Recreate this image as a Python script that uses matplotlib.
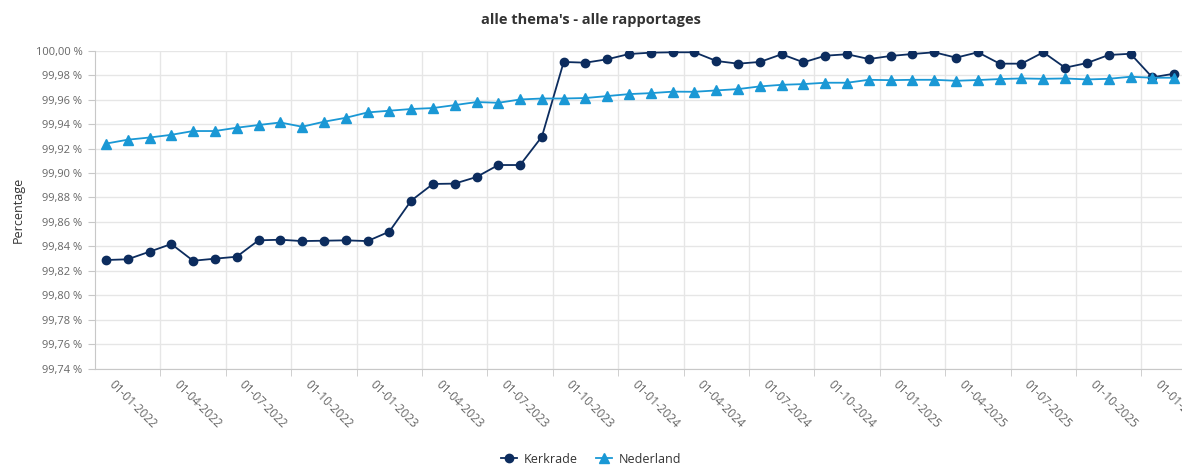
import numpy as np
import pandas as pd
import matplotlib
matplotlib.use('Agg')
import matplotlib.pyplot as plt

plt.rcParams['font.family'] = ['Open Sans', 'DejaVu Sans']

MONTHS = pd.date_range(start='2022-01-01', periods=50, freq='MS')
CATEGORIES = [d.strftime('%d-%m-%Y') for d in MONTHS]

KERKRADE = [
    99.8288, 99.8294, 99.8356, 99.8419, 99.8282, 99.8299, 99.8315, 99.8449, 99.8454, 99.8443,
    99.8446, 99.8449, 99.8443, 99.8520, 99.8773, 99.8910, 99.8913, 99.8967, 99.9065, 99.9065,
    99.9297, 99.9908, 99.9902, 99.9930, 99.9973, 99.9984, 99.9987, 99.9987, 99.9916, 99.9894,
    99.9908, 99.9971, 99.9905, 99.9959, 99.9971, 99.9932, 99.9957, 99.9973, 99.9987, 99.9943,
    99.9987, 99.9894, 99.9894, 99.9987, 99.9861, 99.9899, 99.9965, 99.9975, 99.9782, 99.9812,
]
NEDERLAND = [
    99.9240, 99.9272, 99.9290, 99.9312, 99.9343, 99.9343, 99.9370, 99.9392, 99.9413, 99.9378,
    99.9419, 99.9451, 99.9495, 99.9509, 99.9523, 99.9531, 99.9555, 99.9580, 99.9574, 99.9601,
    99.9609, 99.9609, 99.9613, 99.9629, 99.9645, 99.9653, 99.9665, 99.9664, 99.9675, 99.9686,
    99.9708, 99.9721, 99.9727, 99.9738, 99.9738, 99.9762, 99.9759, 99.9762, 99.9762, 99.9754,
    99.9760, 99.9768, 99.9773, 99.9770, 99.9773, 99.9765, 99.9770, 99.9787, 99.9779, 99.9779,
]
Y_TICKS = [99.74, 99.76, 99.78, 99.80, 99.82, 99.84, 99.86, 99.88, 99.90, 99.92, 99.94, 99.96, 99.98, 100.00]

DARK = '#0c2c5e'
LIGHT = '#1a98d5'
GRID = '#e6e6e6'
AXIS = '#c8c8c8'
TEXT = '#666666'

W, H = 1182, 465
fig = plt.figure(figsize=(W / 100, H / 100), dpi=100)
ax = fig.add_axes([95 / W, 1 - 368.6 / H, 1 - 95 / W, (368.6 - 50.7) / H])

x = np.arange(len(CATEGORIES))
ax.plot(x, KERKRADE, color=DARK, lw=1.3, marker='o', ms=6, label='Kerkrade', zorder=3)
ax.plot(x, NEDERLAND, color=LIGHT, lw=1.3, marker='^', ms=6.5, label='Nederland', zorder=3)

ax.set_xlim(-0.5, -0.5 + (W - 95) / 21.8)
ax.set_ylim(99.74, 100.0)

ax.set_yticks(Y_TICKS)
ax.set_yticklabels([f'{v:.2f} %'.replace('.', ',') for v in Y_TICKS], fontsize=8, color=TEXT)

# date labels sit on the points, ticks and grid lines between the categories
label_pos = x[::3]
ax.set_xticks(label_pos)
ax.set_xticklabels([CATEGORIES[i] for i in label_pos], rotation=-45, ha='left', va='bottom',
                   rotation_mode='anchor', fontsize=8.5, color=TEXT)
ax.tick_params(axis='x', length=0, pad=13)
ax.set_xticks(np.arange(2.5, len(CATEGORIES), 3), minor=True)
ax.tick_params(axis='x', which='minor', length=5, color=AXIS)
ax.tick_params(axis='y', length=5, color=AXIS, pad=4)

ax.grid(True, axis='y', color=GRID, lw=1)
ax.grid(True, axis='x', which='minor', color=GRID, lw=1)
ax.grid(False, axis='x', which='major')
ax.set_axisbelow(True)

for side in ['top', 'right']:
    ax.spines[side].set_visible(False)
ax.spines['left'].set_color(AXIS)
ax.spines['bottom'].set_color(AXIS)

ax.set_ylabel('Percentage', fontsize=9, color='#333333', labelpad=8)
fig.text(0.5, 1 - 20 / H, "alle thema's - alle rapportages", ha='center', va='center',
         fontsize=10.5, fontweight='bold', color='#333333')

fig.legend(loc='center', bbox_to_anchor=(0.5, 6 / H), ncol=2, frameon=False,
           fontsize=9, handlelength=1.3, columnspacing=1.5, handletextpad=0.5,
           labelcolor='#333333')

fig.savefig('out.png', dpi=100)
